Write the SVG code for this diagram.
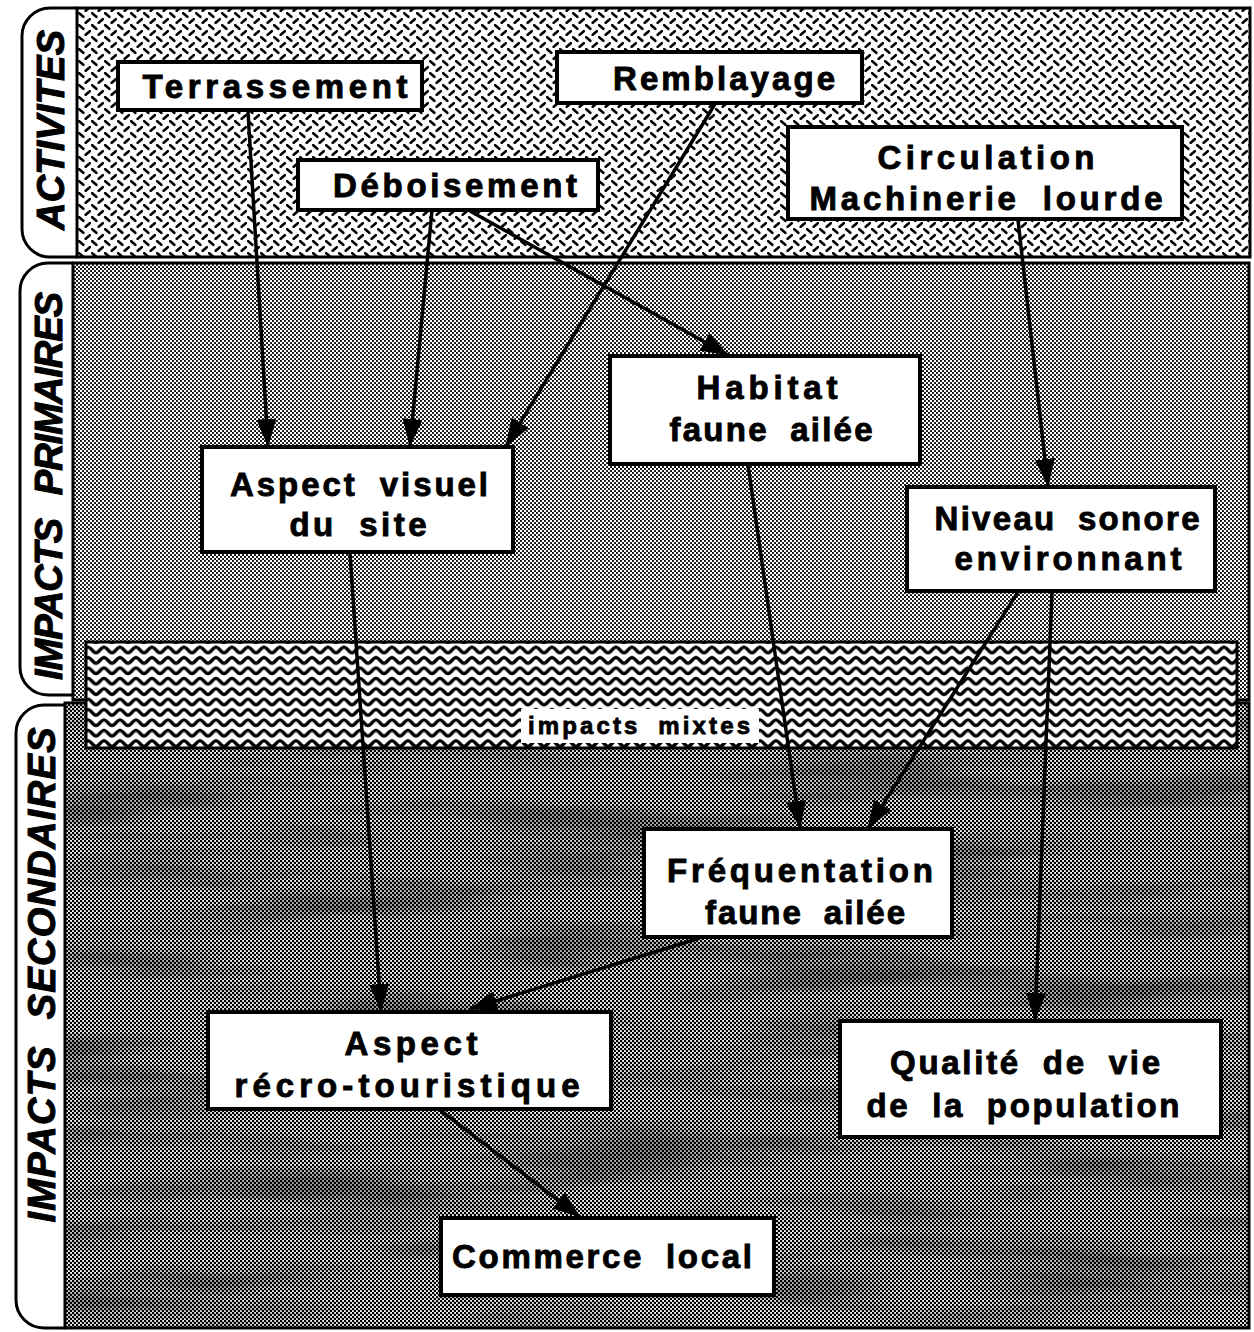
<svg xmlns="http://www.w3.org/2000/svg" width="1254" height="1332" viewBox="0 0 1254 1332">
  <style>
    .tab { fill: #fff; stroke: #000; stroke-width: 3; }
    .tabtxt { font-family: "Liberation Sans", Arial, sans-serif; font-weight: bold; font-style: italic; font-size: 38px; text-anchor: middle; fill: #000; stroke: #000; stroke-width: 1; word-spacing: 14px; }
    .zone { stroke: #000; stroke-width: 3; }
    .box { fill: #fff; stroke: #000; stroke-width: 4; }
    .lbl { font-family: "Liberation Sans", Arial, sans-serif; font-weight: bold; font-size: 33px; text-anchor: middle; fill: #000; stroke: #000; stroke-width: 0.9; word-spacing: 10px; }
    .mix { font-family: "Liberation Sans", Arial, sans-serif; font-weight: bold; font-size: 24px; text-anchor: middle; fill: #000; stroke: #000; stroke-width: 0.8; word-spacing: 8px; }
    .arrow { fill: none; stroke: #000; stroke-width: 3.5; marker-end: url(#ah); }
  </style>
  <defs>
    <!-- diamond-plate dashes for the activities band -->
    <pattern id="hatch" width="13" height="12" patternUnits="userSpaceOnUse">
      <rect width="13" height="12" fill="#fff"/>
      <path d="M1.2,1.2 L5.3,4.8 M7.7,10.8 L11.8,7.2" stroke="#000" stroke-width="2.6" stroke-linecap="round"/>
    </pattern>
    <!-- light halftone screen -->
    <pattern id="screenLight" width="4" height="4" patternUnits="userSpaceOnUse">
      <rect width="4" height="4" fill="#fff"/>
      <circle cx="1" cy="1" r="1.05" fill="#000"/>
      <circle cx="3" cy="3" r="1.05" fill="#000"/>
    </pattern>
    <!-- dark halftone screen -->
    <pattern id="screenDark" width="4" height="4" patternUnits="userSpaceOnUse">
      <rect width="4" height="4" fill="#fff"/>
      <circle cx="1" cy="1" r="1.3" fill="#000"/>
      <circle cx="3" cy="3" r="1.3" fill="#000"/>
    </pattern>
    <!-- wavy lines for the mixed-impacts strip -->
    <pattern id="waves" width="16" height="10.4" patternUnits="userSpaceOnUse">
      <rect width="16" height="10.4" fill="#fff"/>
      <path d="M0,8 C3,8 5,2.4 8,2.4 C11,2.4 13,8 16,8" fill="none" stroke="#000" stroke-width="3.4"/>
    </pattern>
    <!-- horizontal streaks on the dark screen -->
    <filter id="streaks" x="0" y="0" width="100%" height="100%">
      <feTurbulence type="fractalNoise" baseFrequency="0.004 0.03" numOctaves="3" seed="7"/>
      <feColorMatrix type="matrix" values="0 0 0 0 0  0 0 0 0 0  0 0 0 0 0  2.6 0 0 0 -1.1"/>
    </filter>
    <marker id="ah" viewBox="0 0 28 20" refX="27" refY="10" markerWidth="28" markerHeight="20" orient="auto" markerUnits="userSpaceOnUse">
      <path d="M0,0 L28,10 L0,20 z" fill="#000"/>
    </marker>
  </defs>

  <rect width="1254" height="1332" fill="#fff"/>

  <!-- row tabs -->
  <g id="tab-activites">
    <path class="tab" d="M77,8 H50 A28,28 0 0 0 22,36 V229 A28,28 0 0 0 50,257 H77"/>
    <text class="tabtxt" transform="translate(64,130) rotate(-90)" textLength="200" lengthAdjust="spacing">ACTIVITES</text>
  </g>
  <g id="tab-primaires">
    <path class="tab" d="M73,263 H48 A28,28 0 0 0 20,291 V667 A28,28 0 0 0 48,695 H73"/>
    <text class="tabtxt" transform="translate(62,486) rotate(-90)" textLength="388" lengthAdjust="spacing">IMPACTS PRIMAIRES</text>
  </g>
  <g id="tab-secondaires">
    <path class="tab" d="M65,705 H44 A28,28 0 0 0 16,733 V1300 A28,28 0 0 0 44,1328 H65"/>
    <text class="tabtxt" transform="translate(55,975) rotate(-90)" textLength="495" lengthAdjust="spacing">IMPACTS SECONDAIRES</text>
  </g>

  <!-- row bands -->
  <g id="bands">
    <rect class="zone" x="77" y="8" width="1173" height="249" fill="url(#hatch)"/>
    <rect class="zone" x="73" y="263" width="1176" height="437" fill="url(#screenLight)"/>
    <rect class="zone" x="65" y="703" width="1184" height="625" fill="url(#screenDark)"/>
    <rect x="67" y="705" width="1180" height="621" fill="#000" opacity="0.35" filter="url(#streaks)"/>
  </g>

  <g id="mixtes">
    <rect class="zone" x="86" y="642" width="1151" height="106" fill="url(#waves)"/>
    <rect x="521" y="709" width="238" height="34" fill="#fff"/>
    <text class="mix" x="639" y="734" textLength="222" lengthAdjust="spacing">impacts mixtes</text>
  </g>

  <!-- connectors -->
  <g id="connectors">
    <line class="arrow" x1="248" y1="112" x2="268" y2="446"/>
    <line class="arrow" x1="432" y1="210" x2="410" y2="446"/>
    <line class="arrow" x1="715" y1="104" x2="506" y2="446"/>
    <line class="arrow" x1="470" y1="211" x2="728" y2="355"/>
    <line class="arrow" x1="1018" y1="220" x2="1048" y2="486"/>
    <line class="arrow" x1="748" y1="465" x2="800" y2="828"/>
    <line class="arrow" x1="1018" y1="592" x2="868" y2="828"/>
    <line class="arrow" x1="350" y1="553" x2="381" y2="1011"/>
    <line class="arrow" x1="700" y1="938" x2="470" y2="1009"/>
    <line class="arrow" x1="1052" y1="592" x2="1035" y2="1020"/>
    <line class="arrow" x1="440" y1="1110" x2="580" y2="1217"/>
  </g>

  <!-- activities -->
  <g id="terrassement">
    <rect class="box" x="118" y="62" width="304" height="48"/>
    <text class="lbl" x="275" y="98" textLength="265" lengthAdjust="spacing">Terrassement</text>
  </g>
  <g id="remblayage">
    <rect class="box" x="557" y="52" width="305" height="51"/>
    <text class="lbl" x="724" y="90" textLength="222" lengthAdjust="spacing">Remblayage</text>
  </g>
  <g id="deboisement">
    <rect class="box" x="298" y="160" width="300" height="50"/>
    <text class="lbl" x="455" y="197" textLength="244" lengthAdjust="spacing">Déboisement</text>
  </g>
  <g id="circulation">
    <rect class="box" x="788" y="127" width="394" height="92"/>
    <text class="lbl" x="986" y="169" textLength="217" lengthAdjust="spacing">Circulation</text>
    <text class="lbl" x="986" y="210" textLength="353" lengthAdjust="spacing">Machinerie lourde</text>
  </g>

  <!-- primary impacts -->
  <g id="habitat">
    <rect class="box" x="610" y="356" width="310" height="108"/>
    <text class="lbl" x="767" y="399" textLength="141" lengthAdjust="spacing">Habitat</text>
    <text class="lbl" x="771" y="441" textLength="203" lengthAdjust="spacing">faune ailée</text>
  </g>
  <g id="aspect-visuel">
    <rect class="box" x="202" y="447" width="311" height="105"/>
    <text class="lbl" x="359" y="496" textLength="258" lengthAdjust="spacing">Aspect visuel</text>
    <text class="lbl" x="358" y="536" textLength="137" lengthAdjust="spacing">du site</text>
  </g>
  <g id="niveau-sonore">
    <rect class="box" x="907" y="487" width="308" height="104"/>
    <text class="lbl" x="1067" y="530" textLength="265" lengthAdjust="spacing">Niveau sonore</text>
    <text class="lbl" x="1068" y="570" textLength="227" lengthAdjust="spacing">environnant</text>
  </g>

  <!-- secondary impacts -->
  <g id="frequentation">
    <rect class="box" x="644" y="829" width="308" height="108"/>
    <text class="lbl" x="800" y="882" textLength="266" lengthAdjust="spacing">Fréquentation</text>
    <text class="lbl" x="805" y="924" textLength="200" lengthAdjust="spacing">faune ailée</text>
  </g>
  <g id="aspect-recro">
    <rect class="box" x="208" y="1012" width="403" height="97"/>
    <text class="lbl" x="411" y="1055" textLength="133" lengthAdjust="spacing">Aspect</text>
    <text class="lbl" x="407" y="1097" textLength="345" lengthAdjust="spacing">récro-touristique</text>
  </g>
  <g id="qualite-vie">
    <rect class="box" x="840" y="1021" width="381" height="116"/>
    <text class="lbl" x="1025" y="1074" textLength="270" lengthAdjust="spacing">Qualité de vie</text>
    <text class="lbl" x="1023" y="1117" textLength="313" lengthAdjust="spacing">de la population</text>
  </g>
  <g id="commerce">
    <rect class="box" x="441" y="1218" width="333" height="77"/>
    <text class="lbl" x="602" y="1268" textLength="300" lengthAdjust="spacing">Commerce local</text>
  </g>
</svg>
